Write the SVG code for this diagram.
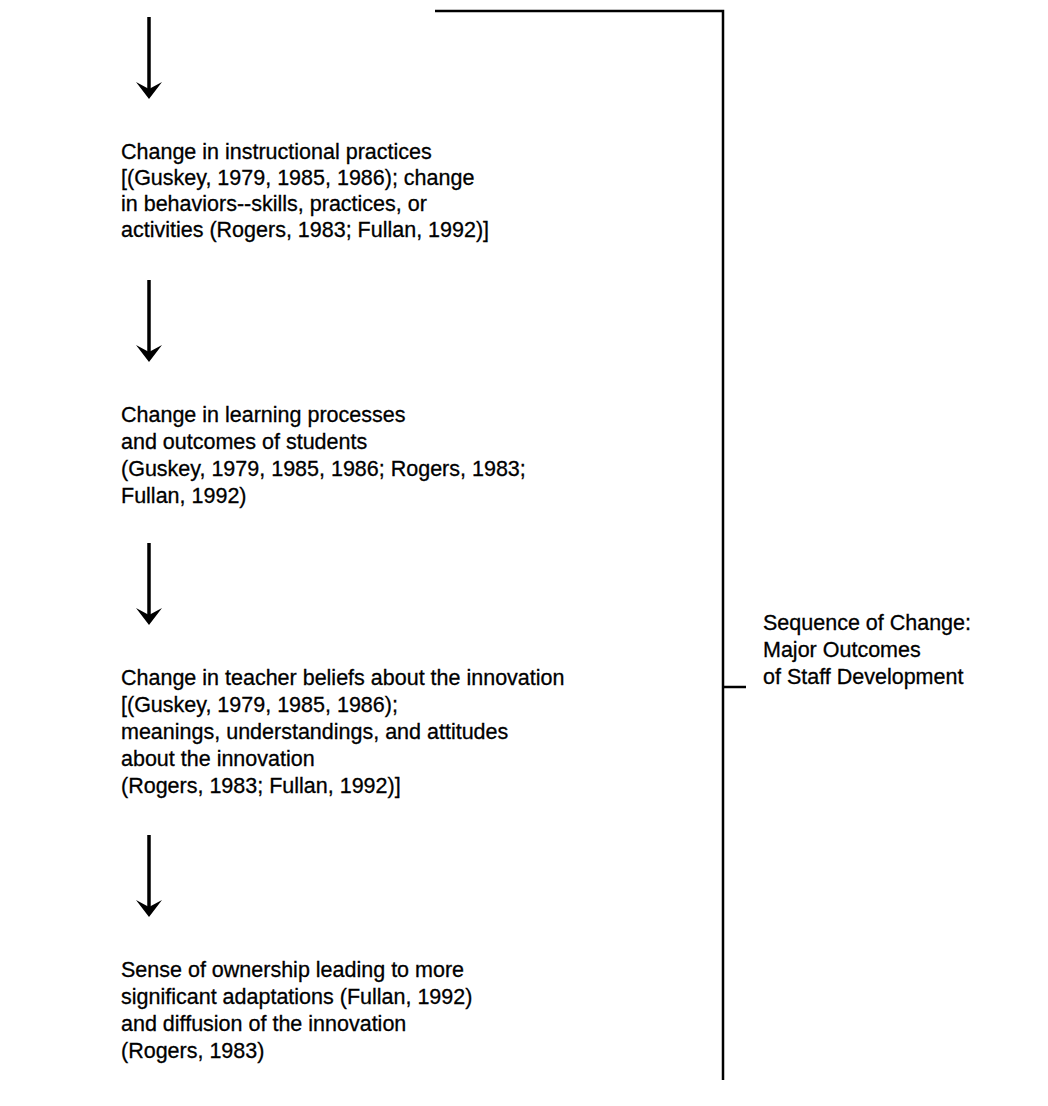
<svg xmlns="http://www.w3.org/2000/svg" width="1048" height="1106" viewBox="0 0 1048 1106">
  <style>
    .t { font-family: "Liberation Sans", Arial, Helvetica, sans-serif; font-size: 21.5px; fill: #000; stroke: #000; stroke-width: 0.3; }
    .shaft { stroke: #000; stroke-width: 3.5; fill: none; }
    .br { stroke: #000; stroke-width: 2.5; fill: none; }
  </style>
  <defs>
    <!-- notched arrowhead, tip at (0,0) -->
    <path id="head" d="M-13,-17 L0,0 L13,-17 L0,-10 Z" fill="#000"/>
  </defs>
  <rect width="1048" height="1106" fill="#fff"/>

  <g id="connectors">
    <line class="shaft" x1="149" y1="17" x2="149" y2="90"/>
    <use href="#head" x="149" y="99"/>
    <line class="shaft" x1="149" y1="280" x2="149" y2="353"/>
    <use href="#head" x="149" y="362"/>
    <line class="shaft" x1="149" y1="543" x2="149" y2="616"/>
    <use href="#head" x="149" y="625"/>
    <line class="shaft" x1="149" y1="835" x2="149" y2="908"/>
    <use href="#head" x="149" y="917"/>
    <!-- bracket grouping the sequence -->
    <polyline class="br" points="435,11 723,11 723,1080"/>
    <line class="br" x1="723" y1="687" x2="746" y2="687"/>
  </g>

  <g id="node-practices">
    <text class="t" x="121" y="159">Change in instructional practices</text>
    <text class="t" x="121" y="185">[(Guskey, 1979, 1985, 1986); change</text>
    <text class="t" x="121" y="211">in behaviors--skills, practices, or</text>
    <text class="t" x="121" y="237">activities (Rogers, 1983; Fullan, 1992)]</text>
  </g>

  <g id="node-students">
    <text class="t" x="121" y="422">Change in learning processes</text>
    <text class="t" x="121" y="449">and outcomes of students</text>
    <text class="t" x="121" y="476">(Guskey, 1979, 1985, 1986; Rogers, 1983;</text>
    <text class="t" x="121" y="503">Fullan, 1992)</text>
  </g>

  <g id="node-beliefs">
    <text class="t" x="121" y="685">Change in teacher beliefs about the innovation</text>
    <text class="t" x="121" y="712">[(Guskey, 1979, 1985, 1986);</text>
    <text class="t" x="121" y="739">meanings, understandings, and attitudes</text>
    <text class="t" x="121" y="766">about the innovation</text>
    <text class="t" x="121" y="793">(Rogers, 1983; Fullan, 1992)]</text>
  </g>

  <g id="node-ownership">
    <text class="t" x="121" y="977">Sense of ownership leading to more</text>
    <text class="t" x="121" y="1004">significant adaptations (Fullan, 1992)</text>
    <text class="t" x="121" y="1031">and diffusion of the innovation</text>
    <text class="t" x="121" y="1058">(Rogers, 1983)</text>
  </g>

  <g id="label-sequence">
    <text class="t" x="763" y="630">Sequence of Change:</text>
    <text class="t" x="763" y="657">Major Outcomes</text>
    <text class="t" x="763" y="684">of Staff Development</text>
  </g>
</svg>
